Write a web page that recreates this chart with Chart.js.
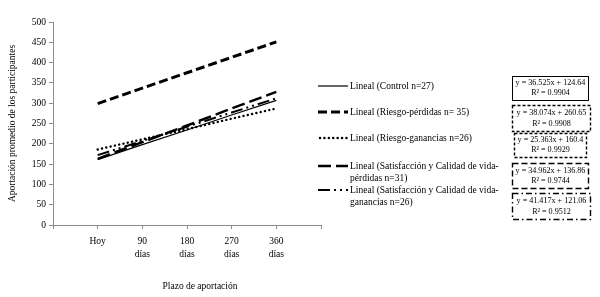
<!DOCTYPE html>
<html><head><meta charset="utf-8">
<script src="https://cdn.jsdelivr.net/npm/chart.js@4/dist/chart.umd.min.js"></script>
<style>html,body{margin:0;padding:0;background:#fff}#wrap{width:600px;height:297px;position:relative}</style>
</head><body><div id="wrap"><canvas id="c" width="600" height="297"></canvas></div>
<script>
// ---- data ----
const categories = [['Hoy'], ['90', 'días'], ['180', 'días'], ['270', 'días'], ['360', 'días']];
const yTickMax = 500;
const yTickStep = 50;
const control = [161, 198, 234, 271, 307];
const riesgoPerdidas = [299, 337, 375, 413, 451];
const riesgoGanancias = [186, 211, 236, 262, 287];
const satPerdidas = [163, 204, 245, 287, 328];
const satGanancias = [172, 207, 242, 277, 312];
const legendLabels = [
  ['Lineal (Control n=27)'],
  ['Lineal (Riesgo-pérdidas n= 35)'],
  ['Lineal (Riesgo-ganancias n=26)'],
  ['Lineal (Satisfacción y Calidad de vida-', 'pérdidas n=31)'],
  ['Lineal (Satisfacción y Calidad de vida-', 'ganancias n=26)']
];
const equations = ['y = 36.525x + 124.64', 'y = 38.074x + 260.65', 'y = 25.363x + 160.4', 'y = 34.962x + 136.86', 'y = 41.417x + 121.06'];
const rSquared = ['R² = 0.9904', 'R² = 0.9908', 'R² = 0.9929', 'R² = 0.9744', 'R² = 0.9512'];
const xTitle = 'Plazo de aportación';
const yTitle = 'Aportación promedio de los participantes';

// ---- styles ----
const FONT = '"Liberation Serif", "DejaVu Serif", serif';
const styles = [
  { width: 1.2, dash: [], cap: 'butt' },
  { width: 3, dash: [9, 4], cap: 'butt' },
  { width: 2.4, dash: [0.1, 4.3], cap: 'round' },
  { width: 2.5, dash: [13, 5], cap: 'butt' },
  { width: 2, dash: [12, 4, 2, 4, 2, 4], cap: 'butt' }
];
const boxDash = [[], [3, 2], [3, 2], [6, 3], [6, 3, 1.5, 3]];
const allSeries = [control, riesgoPerdidas, riesgoGanancias, satPerdidas, satGanancias];

const toPoints = arr => arr.map((v, i) => ({ x: i + 1, y: v }));

const datasets = allSeries.map((s, i) => ({
  label: legendLabels[i].join(' '),
  data: toPoints(s),
  borderColor: '#000',
  borderWidth: styles[i].width,
  borderDash: styles[i].dash,
  borderCapStyle: styles[i].cap,
  pointRadius: 0,
  fill: false,
  tension: 0
}));

const sidePlugin = {
  id: 'side',
  afterDraw(chart) {
    const ctx = chart.ctx;
    const area = chart.chartArea;
    ctx.save();
    ctx.fillStyle = '#000';
    ctx.strokeStyle = '#000';
    ctx.textBaseline = 'middle';
    // x axis title
    ctx.font = '9.5px ' + FONT;
    ctx.textAlign = 'center';
    ctx.fillText(xTitle, area.left + 147, 286);
    // legend
    const rows = [86, 112, 138, 166, 190];
    rows.forEach((y, i) => {
      ctx.save();
      ctx.lineWidth = styles[i].width;
      ctx.setLineDash(styles[i].dash);
      ctx.lineCap = styles[i].cap;
      ctx.beginPath();
      ctx.moveTo(i === 2 ? 320 : 318, y);
      ctx.lineTo(348, y);
      ctx.stroke();
      ctx.restore();
      ctx.textAlign = 'left';
      ctx.font = '9.5px ' + FONT;
      legendLabels[i].forEach((t, k) => ctx.fillText(t, 350, y + k * 12.5));
    });
    // equation boxes
    ctx.font = '8.1px ' + FONT;
    const boxes = [[512, 76, 76, 24], [512, 105, 78, 26], [514, 133, 72, 24], [512, 163, 76, 25], [512, 193, 78, 26]];
    boxes.forEach((b, i) => {
      ctx.save();
      ctx.lineWidth = i === 0 ? 1 : 1.4;
      ctx.setLineDash(boxDash[i]);
      ctx.strokeRect(b[0] + 0.5, b[1] + 0.5, b[2], b[3]);
      ctx.restore();
      ctx.textAlign = 'center';
      const cx = b[0] + b[2] / 2 + 0.5;
      ctx.fillText(equations[i], cx, b[1] + b[3] * 0.3);
      ctx.fillText(rSquared[i], cx, b[1] + b[3] * 0.72);
    });
    ctx.restore();
  }
};

new Chart(document.getElementById('c'), {
  type: 'line',
  data: { datasets },
  options: {
    responsive: false,
    animation: false,
    devicePixelRatio: 1,
    layout: { padding: { left: 0, right: 279, top: 22, bottom: 0 } },
    plugins: { legend: { display: false }, tooltip: { enabled: false } },
    scales: {
      x: {
        type: 'linear',
        min: 0, max: categories.length + 1,
        afterFit: s => { s.height = 72; },
        afterBuildTicks: s => { s.ticks = Array.from({ length: categories.length + 2 }, (_, i) => ({ value: i })); },
        border: { color: '#8c8c8c', width: 1 },
        grid: { drawOnChartArea: false, drawTicks: true, tickLength: 4, color: '#8c8c8c' },
        ticks: {
          autoSkip: false, maxRotation: 0, padding: 6,
          color: '#000', font: { family: FONT, size: 9.5, lineHeight: 1.35 },
          callback: v => (v >= 1 && v <= categories.length) ? categories[v - 1] : ''
        },
        title: { display: false }
      },
      y: {
        min: 0, max: yTickMax,
        afterFit: s => { s.width = 53; },
        border: { color: '#8c8c8c', width: 1 },
        grid: { drawOnChartArea: false, drawTicks: true, tickLength: 4, color: '#8c8c8c' },
        ticks: { stepSize: yTickStep, padding: 3, color: '#000', font: { family: FONT, size: 9.5 } },
        title: { display: true, text: yTitle, color: '#000', font: { family: FONT, size: 9.5 }, padding: { top: 7, bottom: 0 } }
      }
    }
  },
  plugins: [sidePlugin]
});
</script>
</body></html>
